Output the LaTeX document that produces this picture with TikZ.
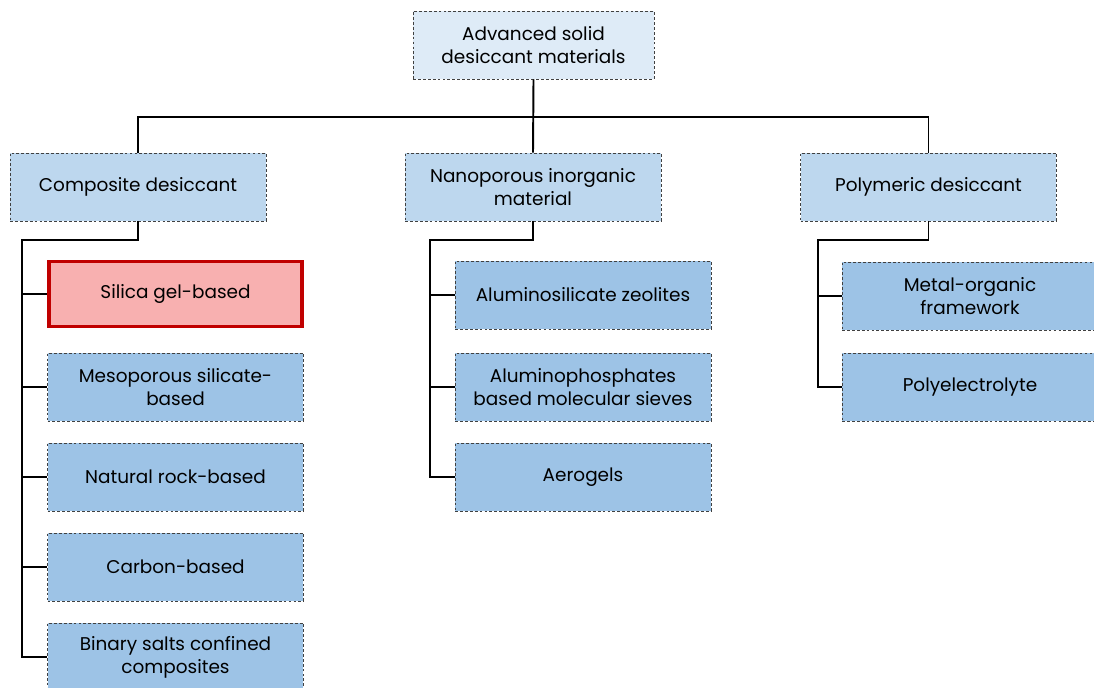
\documentclass[tikz,border=0pt]{standalone}
\usepackage{fontspec}
\setmainfont{Poppins}
\tikzset{
  box/.style={draw=black!75, dash pattern=on 1.6pt off 1.2pt, line width=0.5pt,
    minimum width=5.12cm, minimum height=1.36cm, align=center, font=\fontsize{10.5}{13}\selectfont},
  toplevel/.style={box, fill=topblue, minimum width=4.82cm},
  midlevel/.style={box, fill=midblue},
  leaf/.style={box, fill=leafblue},
  picked/.style={box, draw=pickedred, solid, line width=2pt, fill=pickedfill, minimum width=5.06cm, minimum height=1.3cm},
  link/.style={line width=1.1pt}
}
\definecolor{topblue}{HTML}{DEEBF7}
\definecolor{midblue}{HTML}{BDD7EE}
\definecolor{leafblue}{HTML}{9DC3E6}
\definecolor{pickedred}{HTML}{C00000}
\definecolor{pickedfill}{HTML}{F8B0B0}
\begin{document}
\begin{tikzpicture}[x=0.02cm,y=-0.02cm]
\useasboundingbox (0,0) rectangle (1094,688);
% top
\node[toplevel] (root) at (533.5,45) {Advanced solid\\desiccant materials};
% first level
\node[midlevel] (comp) at (138,187) {Composite desiccant};
\node[midlevel] (nano) at (533,187) {Nanoporous inorganic\\material};
\node[midlevel] (poly) at (928.5,187) {Polymeric desiccant};
% composite desiccant
\node[picked] (silica) at (175.5,294) {Silica gel-based};
\node[leaf] (meso) at (175.5,387) {Mesoporous silicate-\\based};
\node[leaf] (rock) at (175.5,477) {Natural rock-based};
\node[leaf] (carbon) at (175.5,567) {Carbon-based};
\node[leaf] (binary) at (175.5,657) {Binary salts confined\\composites};
% nanoporous inorganic material
\node[leaf] (zeo) at (583,295) {Aluminosilicate zeolites};
\node[leaf] (alpo) at (583,387) {Aluminophosphates\\based molecular sieves};
\node[leaf] (aero) at (583,477) {Aerogels};
% polymeric desiccant
\node[leaf] (mof) at (970,296) {Metal-organic\\framework};
\node[leaf] (pel) at (970,387) {Polyelectrolyte};
% connectors
\coordinate (bus) at (533,117);
\coordinate (cspine) at (22,240);
\coordinate (nspine) at (430,240);
\coordinate (pspine) at (818,240);
\draw[link] (root.south) -- (nano.north);
\draw[link] (comp.north) |- (bus) -| (poly.north);
\draw[link] (comp.south) |- (cspine) |- (binary.west);
\draw[link] (cspine |- silica.west) -- (silica.west);
\draw[link] (cspine |- meso.west) -- (meso.west);
\draw[link] (cspine |- rock.west) -- (rock.west);
\draw[link] (cspine |- carbon.west) -- (carbon.west);
\draw[link] (nano.south) |- (nspine) |- (aero.west);
\draw[link] (nspine |- zeo.west) -- (zeo.west);
\draw[link] (nspine |- alpo.west) -- (alpo.west);
\draw[link] (poly.south) |- (pspine) |- (pel.west);
\draw[link] (pspine |- mof.west) -- (mof.west);
\end{tikzpicture}
\end{document}
